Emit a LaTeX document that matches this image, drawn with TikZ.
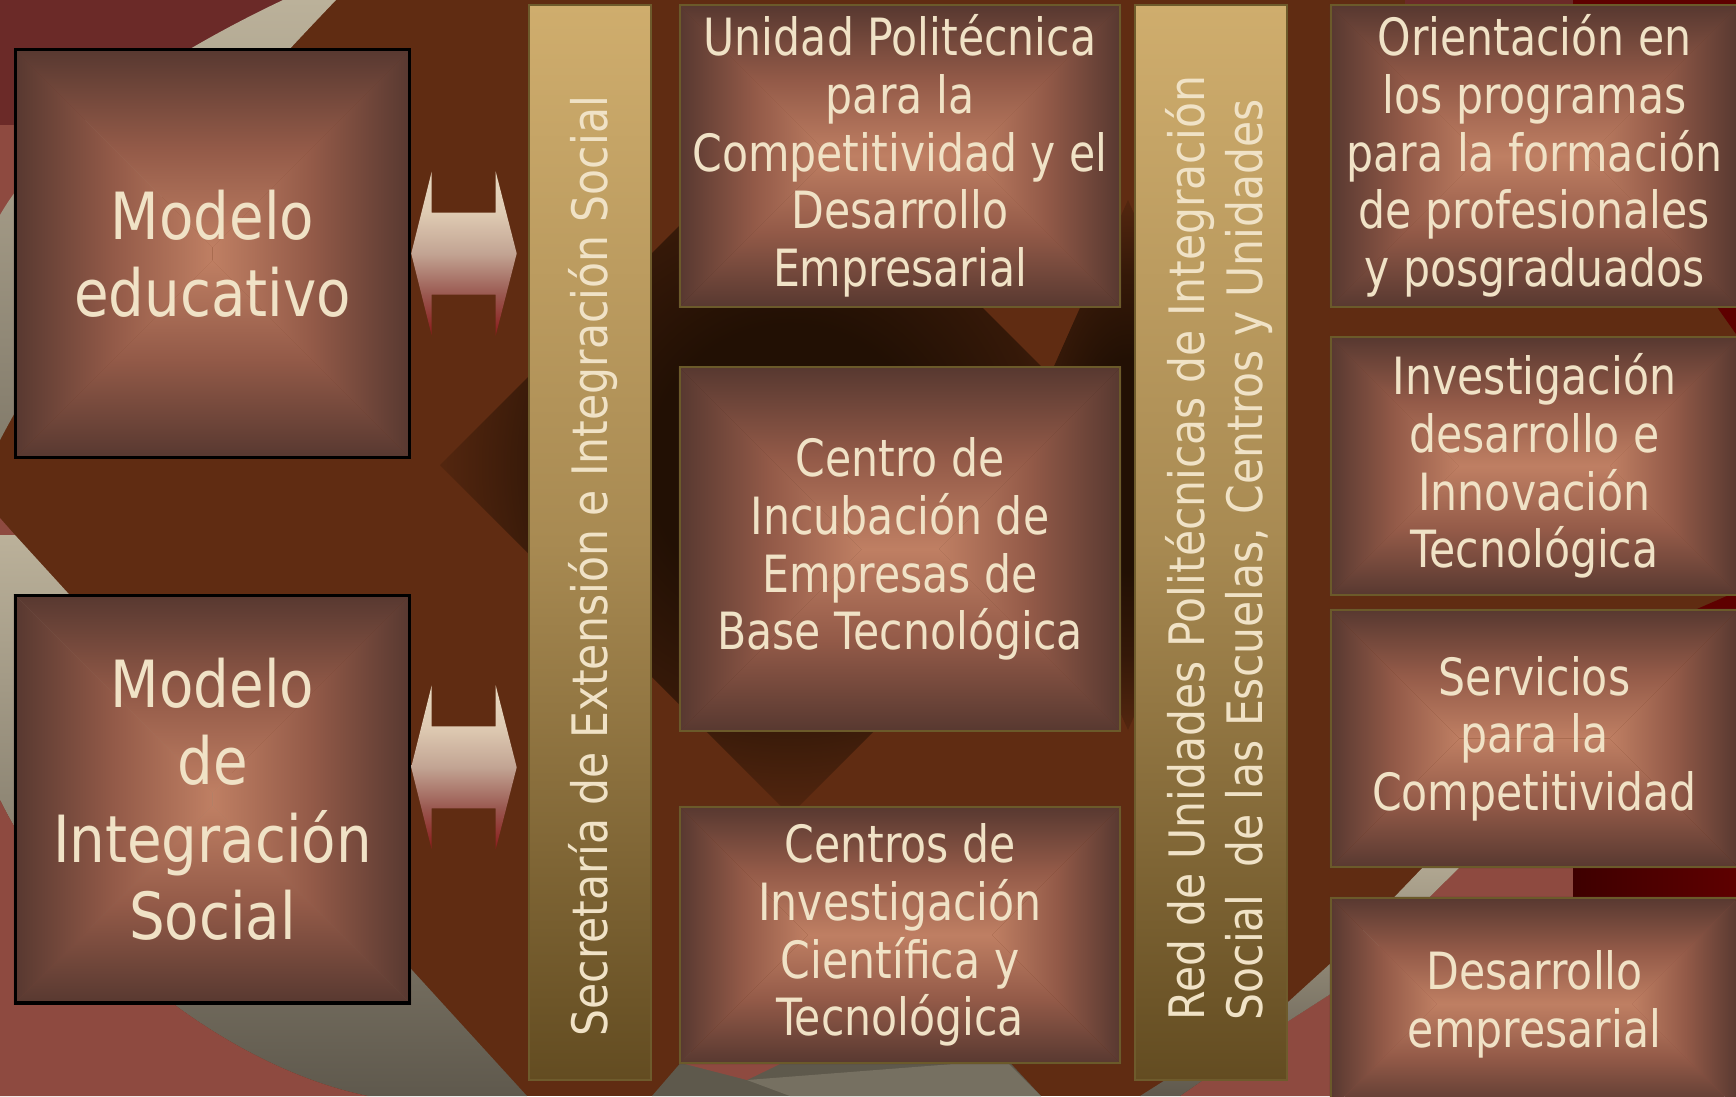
\documentclass[tikz,border=0pt]{standalone}
\usepackage{fontspec}
\newfontfamily\boxfont[FakeStretch=0.83]{DejaVu Sans}
\newfontfamily\bigboxfont[FakeStretch=0.865]{DejaVu Sans}
\newfontfamily\barfont[FakeStretch=0.87]{DejaVu Sans}
\usetikzlibrary{calc}

\definecolor{bgbrown}{HTML}{602C12}
\definecolor{bgdark}{HTML}{221004}
\definecolor{bgred}{HTML}{8E4A40}
\definecolor{topred}{HTML}{6B2A28}
\definecolor{bandbeige}{HTML}{BBB19A}
\definecolor{bandgrey}{HTML}{5F594D}
\definecolor{greyd}{HTML}{5E594C}
\definecolor{greyl}{HTML}{767061}
\definecolor{maroon}{HTML}{5E0000}
\definecolor{darkmaroon}{HTML}{3E0000}
\definecolor{barlight}{HTML}{CFAD6D}
\definecolor{barmid}{HTML}{A88A52}
\definecolor{bardark}{HTML}{634C21}
\definecolor{barline}{HTML}{6E5B2C}
\definecolor{boxedge}{HTML}{573830}
\definecolor{boxmid}{HTML}{935A48}
\definecolor{boxlight}{HTML}{BF7F63}
\definecolor{boxline}{HTML}{6B5A2A}
\definecolor{cream}{HTML}{F0E2C6}
\definecolor{arrtop}{HTML}{E8D9C1}
\definecolor{arrhigh}{HTML}{DFCBB3}
\definecolor{arrmid}{HTML}{C2A493}
\definecolor{arrlow}{HTML}{9A5850}
\definecolor{arrbot}{HTML}{8A1A1A}
\colorlet{coremid}{bgbrown!30!bgdark}
\colorlet{coreedge}{bgbrown!80!bgdark}

\pgfdeclareverticalshading{arrowramp}{100bp}{color(0bp)=(arrbot); color(25bp)=(arrbot); color(37.5bp)=(arrlow); color(50bp)=(arrmid); color(62.5bp)=(arrhigh); color(75bp)=(arrtop); color(100bp)=(arrtop)}
\pgfdeclareradialshading{darkcore}{\pgfpoint{0bp}{0bp}}{color(0bp)=(bgdark); color(10bp)=(bgdark); color(18bp)=(coremid); color(25bp)=(coreedge); color(50bp)=(coreedge)}

\pgfdeclarelayer{back}
\pgfdeclarelayer{glow}
\pgfsetlayers{back,glow,main}

% four shaded wedges, light toward the middle of the box
\newcommand{\glowfill}[1]{%
	\shade[bottom color=boxedge, top color=boxlight, middle color=boxmid] let \p1=(#1.south west), \p2=(#1.north east), \n1={min(\x2-\x1,\y2-\y1)/2} in
		(\x1,\y1) -- (\x2,\y1) -- (\x2-\n1,\y1+\n1) -- (\x1+\n1,\y1+\n1) -- cycle;
	\shade[top color=boxedge, bottom color=boxlight, middle color=boxmid] let \p1=(#1.south west), \p2=(#1.north east), \n1={min(\x2-\x1,\y2-\y1)/2} in
		(\x1,\y2) -- (\x2,\y2) -- (\x2-\n1,\y2-\n1) -- (\x1+\n1,\y2-\n1) -- cycle;
	\shade[left color=boxedge, right color=boxlight, middle color=boxmid] let \p1=(#1.south west), \p2=(#1.north east), \n1={min(\x2-\x1,\y2-\y1)/2} in
		(\x1,\y1) -- (\x1,\y2) -- (\x1+\n1,\y2-\n1) -- (\x1+\n1,\y1+\n1) -- cycle;
	\shade[right color=boxedge, left color=boxlight, middle color=boxmid] let \p1=(#1.south west), \p2=(#1.north east), \n1={min(\x2-\x1,\y2-\y1)/2} in
		(\x2,\y1) -- (\x2,\y2) -- (\x2-\n1,\y2-\n1) -- (\x2-\n1,\y1+\n1) -- cycle;
}

\tikzset{
	glowbox/.style={draw=boxline, line width=0.55pt, text=cream, align=center, inner sep=0pt,
		font=\boxfont\fontsize{14.6}{16.4}\selectfont},
	bigbox/.style={glowbox, draw=black, line width=0.9pt, font=\bigboxfont\fontsize{18.5}{22}\selectfont},
	barbox/.style={draw=barline, line width=0.55pt, top color=barlight, bottom color=bardark, middle color=barmid},
	bartext/.style={rotate=90, anchor=west, inner sep=0pt, text=cream, align=left, font=\barfont\fontsize{13.9}{16.7}\selectfont},
	dblarrow/.style={shading=arrowramp},
}

\begin{document}
\begin{tikzpicture}[x=0.01cm, y=-0.01cm]
	\useasboundingbox (0,0) rectangle (1736,1096);
	\clip (0,0) rectangle (1736,1096);

	% background
	\begin{pgfonlayer}{back}
	\fill[bgbrown] (0,0) rectangle (1736,1096);
	\shade[shading=darkcore] (440,465) -- (790,115) -- (1140,465) -- (790,815) -- cycle;
	\shade[shading=darkcore] (1010,465) -- (1128,200) -- (1246,465) -- (1128,730) -- cycle;
	\fill[bgred] (0,0) -- (290,0) -- (0,250) -- cycle;
	\fill[topred] (0,0) rectangle (288,125);
	\shade[top color=bandbeige, bottom color=bandgrey!60!bandbeige] (283,0) .. controls (230,25) and (60,110) .. (0,215) -- (0,440) .. controls (100,250) and (250,90) .. (336,0) -- cycle;
	\fill[bgred] (0,518) -- (15,535) -- (0,535) -- cycle;
	\shade[top color=bandbeige, bottom color=bandgrey] (0,535) -- (15,535) -- (527,1096) -- (368,1096) .. controls (240,1070) and (80,960) .. (0,800) -- cycle;
	\fill[bgred] (0,800) .. controls (80,960) and (240,1070) .. (368,1096) -- (0,1096) -- cycle;
	\fill[greyd] (652,1096) -- (690,1052) -- (1000,1052) -- (1041,1096) -- cycle;
	\fill[greyl] (747,1080) -- (1005,1060) -- (1041,1096) -- (790,1096) -- cycle;
	\fill[bgred] (681,1063) -- (782,1063) -- (747,1080) -- cycle;
	\fill[bgred] (1465,862) -- (1736,862) -- (1736,1096) -- (1180,1096) -- (1287,1022) -- (1332,993) -- cycle;
	\shade[top color=bandbeige!90!bandgrey, bottom color=bandgrey] (1428,862) -- (1465,862) -- (1332,993) -- (1287,1022) -- (1180,1096) -- (1140,1096) -- (1287,1003) -- (1332,962) -- cycle;
	\shade[left color=darkmaroon, right color=maroon] (1573,862) rectangle (1736,900);
	\fill[topred] (1405,0) rectangle (1736,8);
	\fill[maroon] (1573,0) rectangle (1736,8);
	\fill[maroon] (1712,300) -- (1736,300) -- (1736,334) -- cycle;
	\fill[maroon] (1690,612) -- (1736,592) -- (1736,612) -- cycle;
	\end{pgfonlayer}

	% models
	\node[bigbox, minimum width=3.94cm, minimum height=4.07cm] (me) at (212.5,253.5) {Modelo\\educativo};
	\node[bigbox, minimum width=3.94cm, minimum height=4.07cm] (mis) at (212.5,799.3) {Modelo\\de\\Integración\\Social};

	% columns
	\node[barbox, minimum width=1.22cm, minimum height=10.74cm] (sec) at (590,542.5) {};
	\node[barbox, minimum width=1.515cm, minimum height=10.74cm] (rup) at (1210.75,542.5) {};
	\node[bartext] (sectxt) at (593,1037) {Secretaría de Extensión e Integración Social};
	\node[bartext] (ruptxt) at (1219,1021) {Red de Unidades Politécnicas de Integración\\Social~ de las Escuelas, Centros y Unidades};

	\node[glowbox, minimum width=4.4cm, minimum height=3.01cm] (upc) at (900,156) {Unidad Politécnica\\para la\\Competitividad y el\\Desarrollo\\Empresarial};
	\node[glowbox, minimum width=4.4cm, minimum height=3.63cm] (cie) at (900,549) {Centro de\\Incubación de\\Empresas de\\Base Tecnológica};
	\node[glowbox, minimum width=4.4cm, minimum height=2.56cm] (cic) at (900,935) {Centros de\\Investigación\\Científica y\\Tecnológica};

	\node[glowbox, minimum width=4.07cm, minimum height=3.01cm] (opf) at (1534.5,156) {Orientación en\\los programas\\para la formación\\de profesionales\\y posgraduados};
	\node[glowbox, minimum width=4.07cm, minimum height=2.57cm] (idi) at (1534.5,466) {Investigación\\desarrollo e\\Innovación\\Tecnológica};
	\node[glowbox, minimum width=4.07cm, minimum height=2.57cm] (spc) at (1534.5,738.5) {Servicios\\para la\\Competitividad};
	\node[glowbox, minimum width=4.07cm, minimum height=2.12cm] (dem) at (1534.5,1004) {Desarrollo\\empresarial};

	\begin{pgfonlayer}{glow}
	\foreach \b in {me,mis,upc,cie,cic,opf,idi,spc,dem}
		{\glowfill{\b}}
	\end{pgfonlayer}

	% double arrows
	\shade[dblarrow] (me.east) -- ++(20.5,-82) -- ++(0,41) -- ++(64,0) -- ++(0,-41) -- ++(21,82) -- ++(-21,82) -- ++(0,-41) -- ++(-64,0) -- ++(0,41) -- cycle;
	\shade[dblarrow] ($(mis.east)+(0,-32)$) -- ++(20.5,-82) -- ++(0,41) -- ++(64,0) -- ++(0,-41) -- ++(21,82) -- ++(-21,82) -- ++(0,-41) -- ++(-64,0) -- ++(0,41) -- cycle;
\end{tikzpicture}
\end{document}
